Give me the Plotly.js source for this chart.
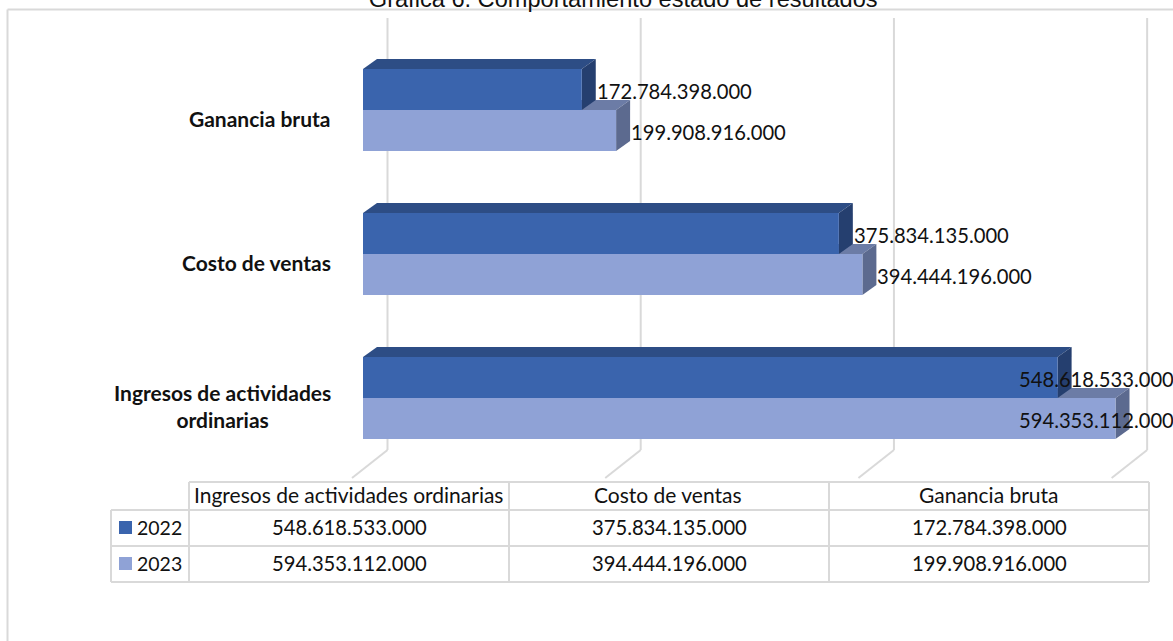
<!DOCTYPE html>
<html><head><meta charset="utf-8">
<script src="https://cdn.plot.ly/plotly-3.0.1.min.js"></script>
<style>html,body{margin:0;padding:0;background:#fff;overflow:hidden}</style>
</head><body><div id="chart" style="width:1173px;height:641px"></div>
<script>
const categories = ["Ingresos de actividades ordinarias","Costo de ventas","Ganancia bruta"];
const wrappedLabels = ["Ingresos de actividades<br>ordinarias","Costo de ventas","Ganancia bruta"];
const years = ["2022","2023"];
const values2022 = [548618533000,375834135000,172784398000];
const values2023 = [594353112000,394444196000,199908916000];
const titleText = "Gráfica 6. Comportamiento estado de resultados";
const gridVals = [0,200e9,400e9,600e9];

const W=1173,H=641;
const pxPerVal = 752.5/594353112000;
const x0 = 363, yMid = 398, rowPx = 144;
const xRange = [-x0/pxPerVal,(W-x0)/pxPerVal];
const yRange = [(yMid-H)/rowPx, yMid/rowPx];
const dxV = 14/pxPerVal, dyV = 10/rowPx;
const barH = 41/rowPx;
const ypos = categories.map((_,i)=>i);
const fmt = v => String(v).replace(/\B(?=(\d{3})+$)/g,".");
const FONT="Lato, Carlito, sans-serif", FS=20.2, GRID="#d9d9d9";
const C = {
  y22:{f:"#3a64ad",t:"#2d4d85",s:"#253f6f"},
  y23:{f:"#8fa2d6",t:"#6c7ca6",s:"#5c6a8f"}
};
const shapes=[];
const px=(x0_,y0_,x1,y1,w)=>shapes.push({type:"line",xref:"paper",yref:"paper",
  x0:x0_/W,x1:x1/W,y0:1-y0_/H,y1:1-y1/H,line:{color:GRID,width:w||2},layer:"below"});
// frame
px(7.5,9.5,7.5,641);px(7.5,9.5,W,9.5);
// gridlines on wall and floor, from the axis scale
gridVals.forEach(v=>{
  const gx = x0+v*pxPerVal;
  px(gx+24.5,18,gx+24.5,450);
  px(gx+24.5,450,gx-11,478);
});
function poly(pts,color){
  const d=pts.map((p,i)=>(i?"L":"M")+p[0]+" "+p[1]).join(" ")+" Z";
  shapes.push({type:"path",xref:"x",yref:"y",path:d,fillcolor:color,line:{width:0},layer:"below"});
}
categories.forEach((_,i)=>{
  const v23=values2023[i], v22=values2022[i];
  // lower bar 2023
  poly([[0,i],[v23,i],[v23+dxV,i+dyV],[dxV,i+dyV]],C.y23.t);
  poly([[v23,i-barH],[v23+dxV,i-barH+dyV],[v23+dxV,i+dyV],[v23,i]],C.y23.s);
  // upper bar 2022
  poly([[0,i+barH],[v22,i+barH],[v22+dxV,i+barH+dyV],[dxV,i+barH+dyV]],C.y22.t);
  poly([[v22,i],[v22+dxV,i+dyV],[v22+dxV,i+barH+dyV],[v22,i+barH]],C.y22.s);
});
// data table
const T={x:[111,189,509,829,1149],y:[482,510,546,582]};
px(189,482,1149,482,2);px(111,510,1149,510,2);px(111,546,1149,546,2);px(111,582,1149,582,2);
px(111,510,111,582,2);px(189,482,189,582,2);px(509,482,509,582,2);px(829,482,829,582,2);px(1149,482,1149,582,2);
[[years[0],C.y22.f,521],[years[1],C.y23.f,557]].forEach(r=>{
  shapes.push({type:"rect",xref:"paper",yref:"paper",x0:119/W,x1:132/W,y0:1-r[2]/H,y1:1-(r[2]+13)/H,fillcolor:r[1],line:{width:0}});
});
const annotations=[];
const ann=(text,xp,yp,anchor,size)=>annotations.push({text,xref:"paper",yref:"paper",
  x:xp/W,y:1-yp/H,xanchor:anchor,yanchor:"middle",showarrow:false,font:{family:FONT,size:size||FS,color:"#111"},borderpad:0,borderwidth:0});
categories.forEach((c,i)=>{
  ann(c,(T.x[i+1]+T.x[i+2])/2-0.5,495,"center",21);
  ann(fmt(values2022[i]),(T.x[i+1]+T.x[i+2])/2,527,"center");
  ann(fmt(values2023[i]),(T.x[i+1]+T.x[i+2])/2,563,"center");
  // category labels
  annotations.push({text:"<b>"+wrappedLabels[i]+"</b>",xref:"paper",yref:"y",x:333/W,y:i,yshift:-8,
    xanchor:"right",yanchor:"middle",align:"center",showarrow:false,
    font:{family:FONT,size:21,color:"#111"}});
  // data labels
  const maxV=517e9;
  [[values2022[i],barH/2],[values2023[i],-barH/2]].forEach(a=>{
    const beyond=a[0]+dxV>maxV;
    annotations.push({text:fmt(a[0]),xref:"x",yref:"y",x:beyond?maxV:a[0]+dxV,y:i+a[1],yshift:-1,
      xanchor:"left",yanchor:"middle",showarrow:false,xshift:-1,
      font:{family:FONT,size:FS,color:"#111"}});
  });
});
ann(years[0],182,527,"right",19.5);
ann(years[1],182,563,"right",19.5);

const data=[
 {type:"bar",orientation:"h",name:years[1],x:values2023,y:ypos,marker:{color:C.y23.f},hoverinfo:"x+name"},
 {type:"bar",orientation:"h",name:years[0],x:values2022,y:ypos,marker:{color:C.y22.f},hoverinfo:"x+name"}
];
const layout={
 width:W,height:H,margin:{l:0,r:0,t:0,b:0},autosize:false,paper_bgcolor:"#fff",plot_bgcolor:"#fff",
 title:{text:titleText,x:0.5313,xanchor:"center",y:1,yanchor:"bottom",automargin:false,pad:{b:-7},
   font:{family:"Liberation Sans, Arial, sans-serif",size:23.6,color:"#111"}},
 barmode:"group",bargap:1-2*barH,bargroupgap:0,showlegend:false,
 xaxis:{range:xRange,showgrid:false,zeroline:false,showticklabels:false,ticks:"",fixedrange:true},
 yaxis:{range:yRange,showgrid:false,zeroline:false,showticklabels:false,ticks:"",fixedrange:true},
 shapes,annotations
};
Plotly.newPlot("chart",data,layout,{displayModeBar:false,staticPlot:true});
</script></body></html>
